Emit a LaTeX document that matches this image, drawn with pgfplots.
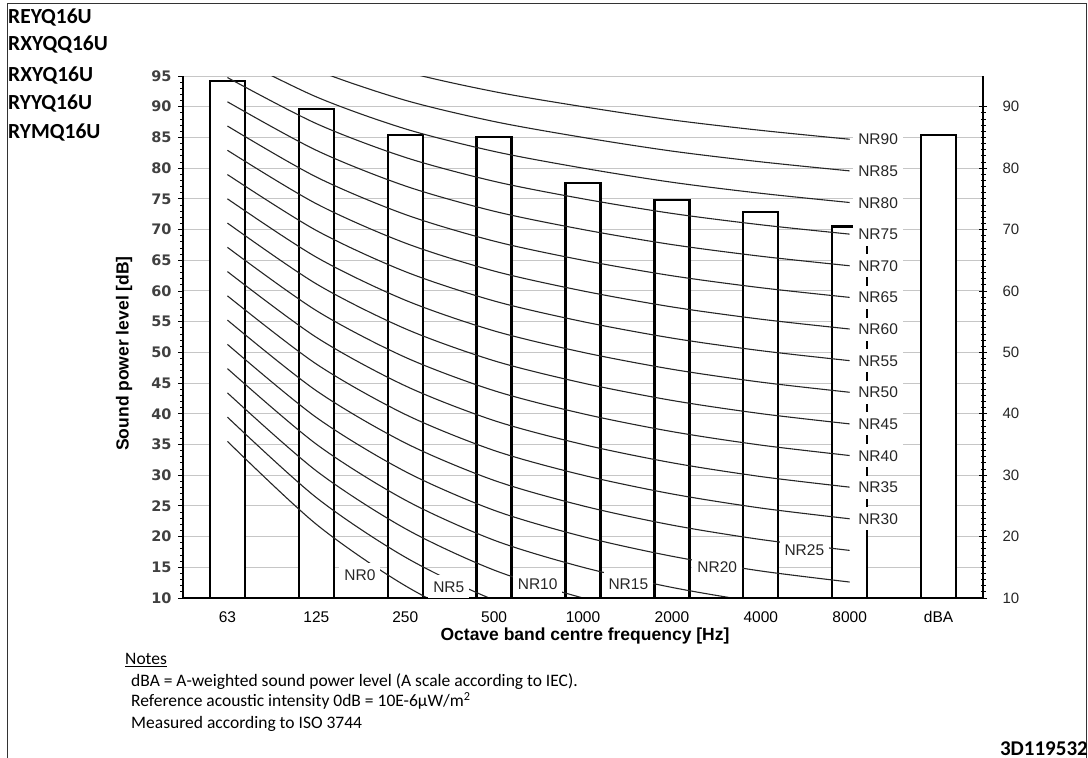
\documentclass[border=0pt]{standalone}
\usepackage{fontspec}
\usepackage{pgfplots}
\pgfplotsset{compat=1.18}
\setmainfont{Liberation Sans}
\newfontfamily\arial{Liberation Sans}
\newfontfamily\calibri{Carlito}
\newfontfamily\wide{DejaVu Sans}
\begin{document}
\begin{tikzpicture}
\useasboundingbox (0pt,0pt) rectangle (1088pt,758pt);
% frame
\draw[black!80, line width=1pt] (7pt,0pt) -- (7pt,754pt) -- (1086pt,754pt) -- (1086pt,0pt);
% model names
\node[anchor=base west, inner sep=0pt, font=\calibri\bfseries\fontsize{21.5}{24}\selectfont] at (8pt,734pt) {REYQ16U};
\node[anchor=base west, inner sep=0pt, font=\calibri\bfseries\fontsize{21.5}{24}\selectfont] at (8pt,707pt) {RXYQQ16U};
\node[anchor=base west, inner sep=0pt, font=\calibri\bfseries\fontsize{21.5}{24}\selectfont] at (8pt,676.5pt) {RXYQ16U};
\node[anchor=base west, inner sep=0pt, font=\calibri\bfseries\fontsize{21.5}{24}\selectfont] at (8pt,648pt) {RYYQ16U};
\node[anchor=base west, inner sep=0pt, font=\calibri\bfseries\fontsize{21.5}{24}\selectfont] at (8pt,619.7pt) {RYMQ16U};

% ---------- axis 1: grid, bars, NR curves
\begin{axis}[
  at={(183pt,160pt)}, anchor=south west, scale only axis,
  width=800pt, height=522pt,
  xmin=-0.5, xmax=8.5, ymin=10, ymax=95,
  axis line style={draw=none},
  xtick={0,...,8},
  xticklabels={63,125,250,500,1000,2000,4000,8000,dBA},
  x tick style={draw=none},
  x tick label style={font=\arial\fontsize{15.5}{18}\selectfont, yshift=-5pt},
  ytick={10,15,...,95}, minor y tick num=4,
  tick pos=left, tick align=outside,
  major tick length=5pt, minor tick length=3pt,
  y tick style={black, line width=0.8pt},
  /pgf/number format/assume math mode=true,
  y tick label style={font=\wide\bfseries\fontsize{14.5}{17}\selectfont, text=black!75, xshift=-3pt},
  ymajorgrids, grid style={gray!45, line width=1pt},
]
\addplot[ybar, bar width=35pt, bar shift=0pt, fill=white, draw=black, line width=2.4pt]
  coordinates {(0,94.2)(1,89.6)(2,85.4)(3,85.1)(4,77.6)(5,74.8)(6,72.9)(7,70.5)(8,85.4)};
\pgfplotsset{nr/.style={black!85, line width=1.1pt, smooth, mark=none}}
\addplot[nr] coordinates {(0,35.5)(1,22.0)(2,12.0)(3,4.8)(4,0)(5,-3.5)(6,-6.1)(7,-8.0)};
\addplot[nr] coordinates {(0,39.45)(1,26.35)(2,16.65)(3,9.67)(4,5)(5,1.575)(6,-0.975)(7,-2.85)};
\addplot[nr] coordinates {(0,43.4)(1,30.7)(2,21.3)(3,14.54)(4,10)(5,6.65)(6,4.15)(7,2.3)};
\addplot[nr] coordinates {(0,47.35)(1,35.05)(2,25.95)(3,19.41)(4,15)(5,11.725)(6,9.275)(7,7.45)};
\addplot[nr] coordinates {(0,51.3)(1,39.4)(2,30.6)(3,24.28)(4,20)(5,16.8)(6,14.4)(7,12.6)};
\addplot[nr] coordinates {(0,55.25)(1,43.75)(2,35.25)(3,29.15)(4,25)(5,21.875)(6,19.525)(7,17.75)};
\addplot[nr] coordinates {(0,59.2)(1,48.1)(2,39.9)(3,34.02)(4,30)(5,26.95)(6,24.65)(7,22.9)};
\addplot[nr] coordinates {(0,63.15)(1,52.45)(2,44.55)(3,38.89)(4,35)(5,32.025)(6,29.775)(7,28.05)};
\addplot[nr] coordinates {(0,67.1)(1,56.8)(2,49.2)(3,43.76)(4,40)(5,37.1)(6,34.9)(7,33.2)};
\addplot[nr] coordinates {(0,71.05)(1,61.15)(2,53.85)(3,48.63)(4,45)(5,42.175)(6,40.025)(7,38.35)};
\addplot[nr] coordinates {(0,75.0)(1,65.5)(2,58.5)(3,53.5)(4,50)(5,47.25)(6,45.15)(7,43.5)};
\addplot[nr] coordinates {(0,78.95)(1,69.85)(2,63.15)(3,58.37)(4,55)(5,52.325)(6,50.275)(7,48.65)};
\addplot[nr] coordinates {(0,82.9)(1,74.2)(2,67.8)(3,63.24)(4,60)(5,57.4)(6,55.4)(7,53.8)};
\addplot[nr] coordinates {(0,86.85)(1,78.55)(2,72.45)(3,68.11)(4,65)(5,62.475)(6,60.525)(7,58.95)};
\addplot[nr] coordinates {(0,90.8)(1,82.9)(2,77.1)(3,72.98)(4,70)(5,67.55)(6,65.65)(7,64.1)};
\addplot[nr] coordinates {(0,94.75)(1,87.25)(2,81.75)(3,77.85)(4,75)(5,72.625)(6,70.775)(7,69.25)};
\addplot[nr] coordinates {(0,98.7)(1,91.6)(2,86.4)(3,82.72)(4,80)(5,77.7)(6,75.9)(7,74.4)};
\addplot[nr] coordinates {(0,102.65)(1,95.95)(2,91.05)(3,87.59)(4,85)(5,82.775)(6,81.025)(7,79.55)};
\addplot[nr] coordinates {(0,106.6)(1,100.3)(2,95.7)(3,92.46)(4,90)(5,87.85)(6,86.15)(7,84.7)};
\end{axis}

% ---------- axis 2: axis lines, right ticks, NR labels
\tikzset{nrl/.style={fill=white, inner xsep=5pt, inner ysep=6pt, text height=11pt, text depth=0pt,
   font=\arial\fontsize{15.5}{18}\selectfont, text=black!85}}
\begin{axis}[
  at={(183pt,160pt)}, anchor=south west, scale only axis,
  width=800pt, height=522pt,
  xmin=-0.5, xmax=8.5, ymin=10, ymax=95,
  clip=false,
  axis line style={draw=none},
  xtick=\empty,
  ytick={10,20,...,90}, minor y tick num=9,
  ytick pos=right, yticklabel pos=right,
  tick align=center,
  major tick length=8pt, minor tick length=5pt,
  y tick style={black, line width=0.8pt},
  /pgf/number format/assume math mode=true,
  y tick label style={font=\arial\fontsize{15}{18}\selectfont, text=black!85, xshift=12pt},
]
\draw[black, line width=2.4pt] (rel axis cs:0,1) -- (rel axis cs:0,0) -- (rel axis cs:1,0);
\draw[black, line width=1.6pt] (rel axis cs:1,0) -- (rel axis cs:1,1);
\node[nrl] at (axis cs:7.32,22.9) {NR30};
\node[nrl] at (axis cs:7.32,28.05) {NR35};
\node[nrl] at (axis cs:7.32,33.2) {NR40};
\node[nrl] at (axis cs:7.32,38.35) {NR45};
\node[nrl] at (axis cs:7.32,43.5) {NR50};
\node[nrl] at (axis cs:7.32,48.65) {NR55};
\node[nrl] at (axis cs:7.32,53.8) {NR60};
\node[nrl] at (axis cs:7.32,58.95) {NR65};
\node[nrl] at (axis cs:7.32,64.1) {NR70};
\node[nrl] at (axis cs:7.32,69.25) {NR75};
\node[nrl] at (axis cs:7.32,74.4) {NR80};
\node[nrl] at (axis cs:7.32,79.55) {NR85};
\node[nrl] at (axis cs:7.32,84.7) {NR90};
\node[nrl] at (axis cs:1.49,13.75) {NR0};
\node[nrl] at (axis cs:2.49,11.8) {NR5};
\node[nrl] at (axis cs:3.49,12.3) {NR10};
\node[nrl] at (axis cs:4.51,12.3) {NR15};
\node[nrl] at (axis cs:5.51,15.1) {NR20};
\node[nrl] at (axis cs:6.49,17.8) {NR25};
\end{axis}

% axis titles
\node[font=\arial\bfseries\fontsize{17.5}{20}\selectfont] at (585pt,122pt) {Octave band centre frequency [Hz]};
\node[rotate=90, font=\arial\bfseries\fontsize{17.5}{20}\selectfont] at (124pt,404.5pt) {Sound power level [dB]};

% notes
\node[anchor=base west, inner sep=0pt, font=\calibri\fontsize{17.5}{20}\selectfont] at (125pt,93pt) {\underline{Notes}};
\node[anchor=base west, inner sep=0pt, font=\calibri\fontsize{17.5}{20}\selectfont] at (131pt,71.3pt) {dBA = A-weighted sound power level (A scale according to IEC).};
\node[anchor=base west, inner sep=0pt, font=\calibri\fontsize{17.5}{20}\selectfont] at (131pt,51.3pt) {Reference acoustic intensity 0dB = 10E-6\textmu W/m\textsuperscript{2}};
\node[anchor=base west, inner sep=0pt, font=\calibri\fontsize{17.5}{20}\selectfont] at (131pt,29pt) {Measured according to ISO 3744};
\node[anchor=base east, inner sep=0pt, font=\calibri\bfseries\fontsize{21}{24}\selectfont] at (1088pt,2pt) {3D119532};
\end{tikzpicture}
\end{document}
